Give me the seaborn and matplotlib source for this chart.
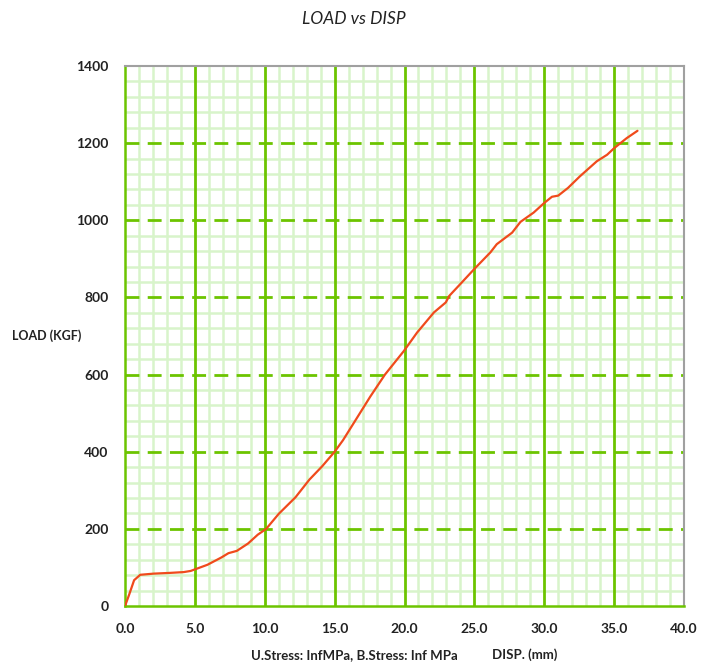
import numpy as np
import pandas as pd
import seaborn as sns
import matplotlib.pyplot as plt
from matplotlib.ticker import MultipleLocator

# curve (DISP mm, LOAD kgf)
disp = [0.0, 0.3, 0.65, 1.09, 2.05, 3.26, 4.2, 4.7, 5.15, 5.9, 6.9, 7.4, 8.0,
        8.8, 9.5, 10.1, 11.0, 12.2, 13.2, 14.1, 15.0, 15.6, 16.36, 17.55,
        18.6, 19.95, 20.9, 22.1, 22.95, 23.2, 24.0, 25.0, 26.15, 26.6, 27.7,
        28.3, 29.24, 30.0, 30.55, 31.0, 31.7, 32.55, 33.76, 34.5, 35.0, 35.9,
        36.67]
load = [0, 30, 67, 81, 84, 86, 88, 91, 97, 107, 126, 137, 143,
        162, 185, 200, 239, 282, 328, 362, 400, 430, 474, 543,
        600, 661, 709, 761, 787, 804, 835, 874, 917, 938, 968,
        996, 1020, 1045, 1061, 1064, 1084, 1114, 1153, 1170, 1187, 1213,
        1232]

df = pd.DataFrame({'DISP': disp, 'LOAD': load})

sns.set_style("white")
plt.rcParams['font.family'] = ['Lato', 'DejaVu Sans']

green = '#6cc400'
light = '#d8f4ca'

fig = plt.figure(figsize=(7.14, 6.64), dpi=100)
ax = fig.add_axes([0.1751, 0.0873, 0.7829, 0.8133])

sns.lineplot(data=df, x='DISP', y='LOAD', ax=ax, color='#f04a1c', linewidth=1.6,
             zorder=3)

ax.set_xlim(0, 40)
ax.set_ylim(0, 1400)
ax.xaxis.set_major_locator(MultipleLocator(5))
ax.xaxis.set_minor_locator(MultipleLocator(1))
ax.yaxis.set_major_locator(MultipleLocator(200))
ax.yaxis.set_minor_locator(MultipleLocator(40))
ax.set_xticklabels([f'{v:.1f}' for v in ax.get_xticks()])

# light minor grid underneath, heavy green major grid on top of it
ax.grid(which='minor', color=light, linewidth=1.8)
ax.grid(False, which='major')
ax.set_axisbelow(True)
for xv in ax.get_xticks():
    if 0 < xv < 40:
        ax.axvline(xv, color=green, linewidth=2.0, zorder=1)
for yv in ax.get_yticks():
    if 0 < yv < 1400:
        ax.axhline(yv, color=green, linewidth=2.0, linestyle=(0, (5, 3)), zorder=1)

ax.tick_params(which='major', direction='out', length=4, width=1.5, color=green,
               labelsize=10, pad=8)
ax.tick_params(which='minor', length=0)

for s in ['left', 'bottom']:
    ax.spines[s].set_color(green)
    ax.spines[s].set_linewidth(1.8)
for s in ['top', 'right']:
    ax.spines[s].set_color('#a0a0a0')
    ax.spines[s].set_linewidth(1.5)

for lab in ax.get_xticklabels() + ax.get_yticklabels():
    lab.set_fontweight('bold')
    lab.set_color('#222222')

ax.set_xlabel('')
ax.set_ylabel('')
fig.text(0.0168, 0.495, 'LOAD (KGF)', fontsize=9, fontweight='bold',
         color='#222222', va='center', ha='left')
fig.text(0.351, 0.0136, 'U.Stress: InfMPa, B.Stress: Inf MPa', fontsize=9.5,
         fontweight='bold', color='#222222', va='center', ha='left')
fig.text(0.689, 0.0136, 'DISP. (mm)', fontsize=9.5, fontweight='bold',
         color='#222222', va='center', ha='left')
fig.text(0.495, 0.972, 'LOAD vs DISP', fontsize=12.5, style='italic',
         color='#222222', va='center', ha='center')

fig.savefig('out.png', dpi=100, facecolor='white')
